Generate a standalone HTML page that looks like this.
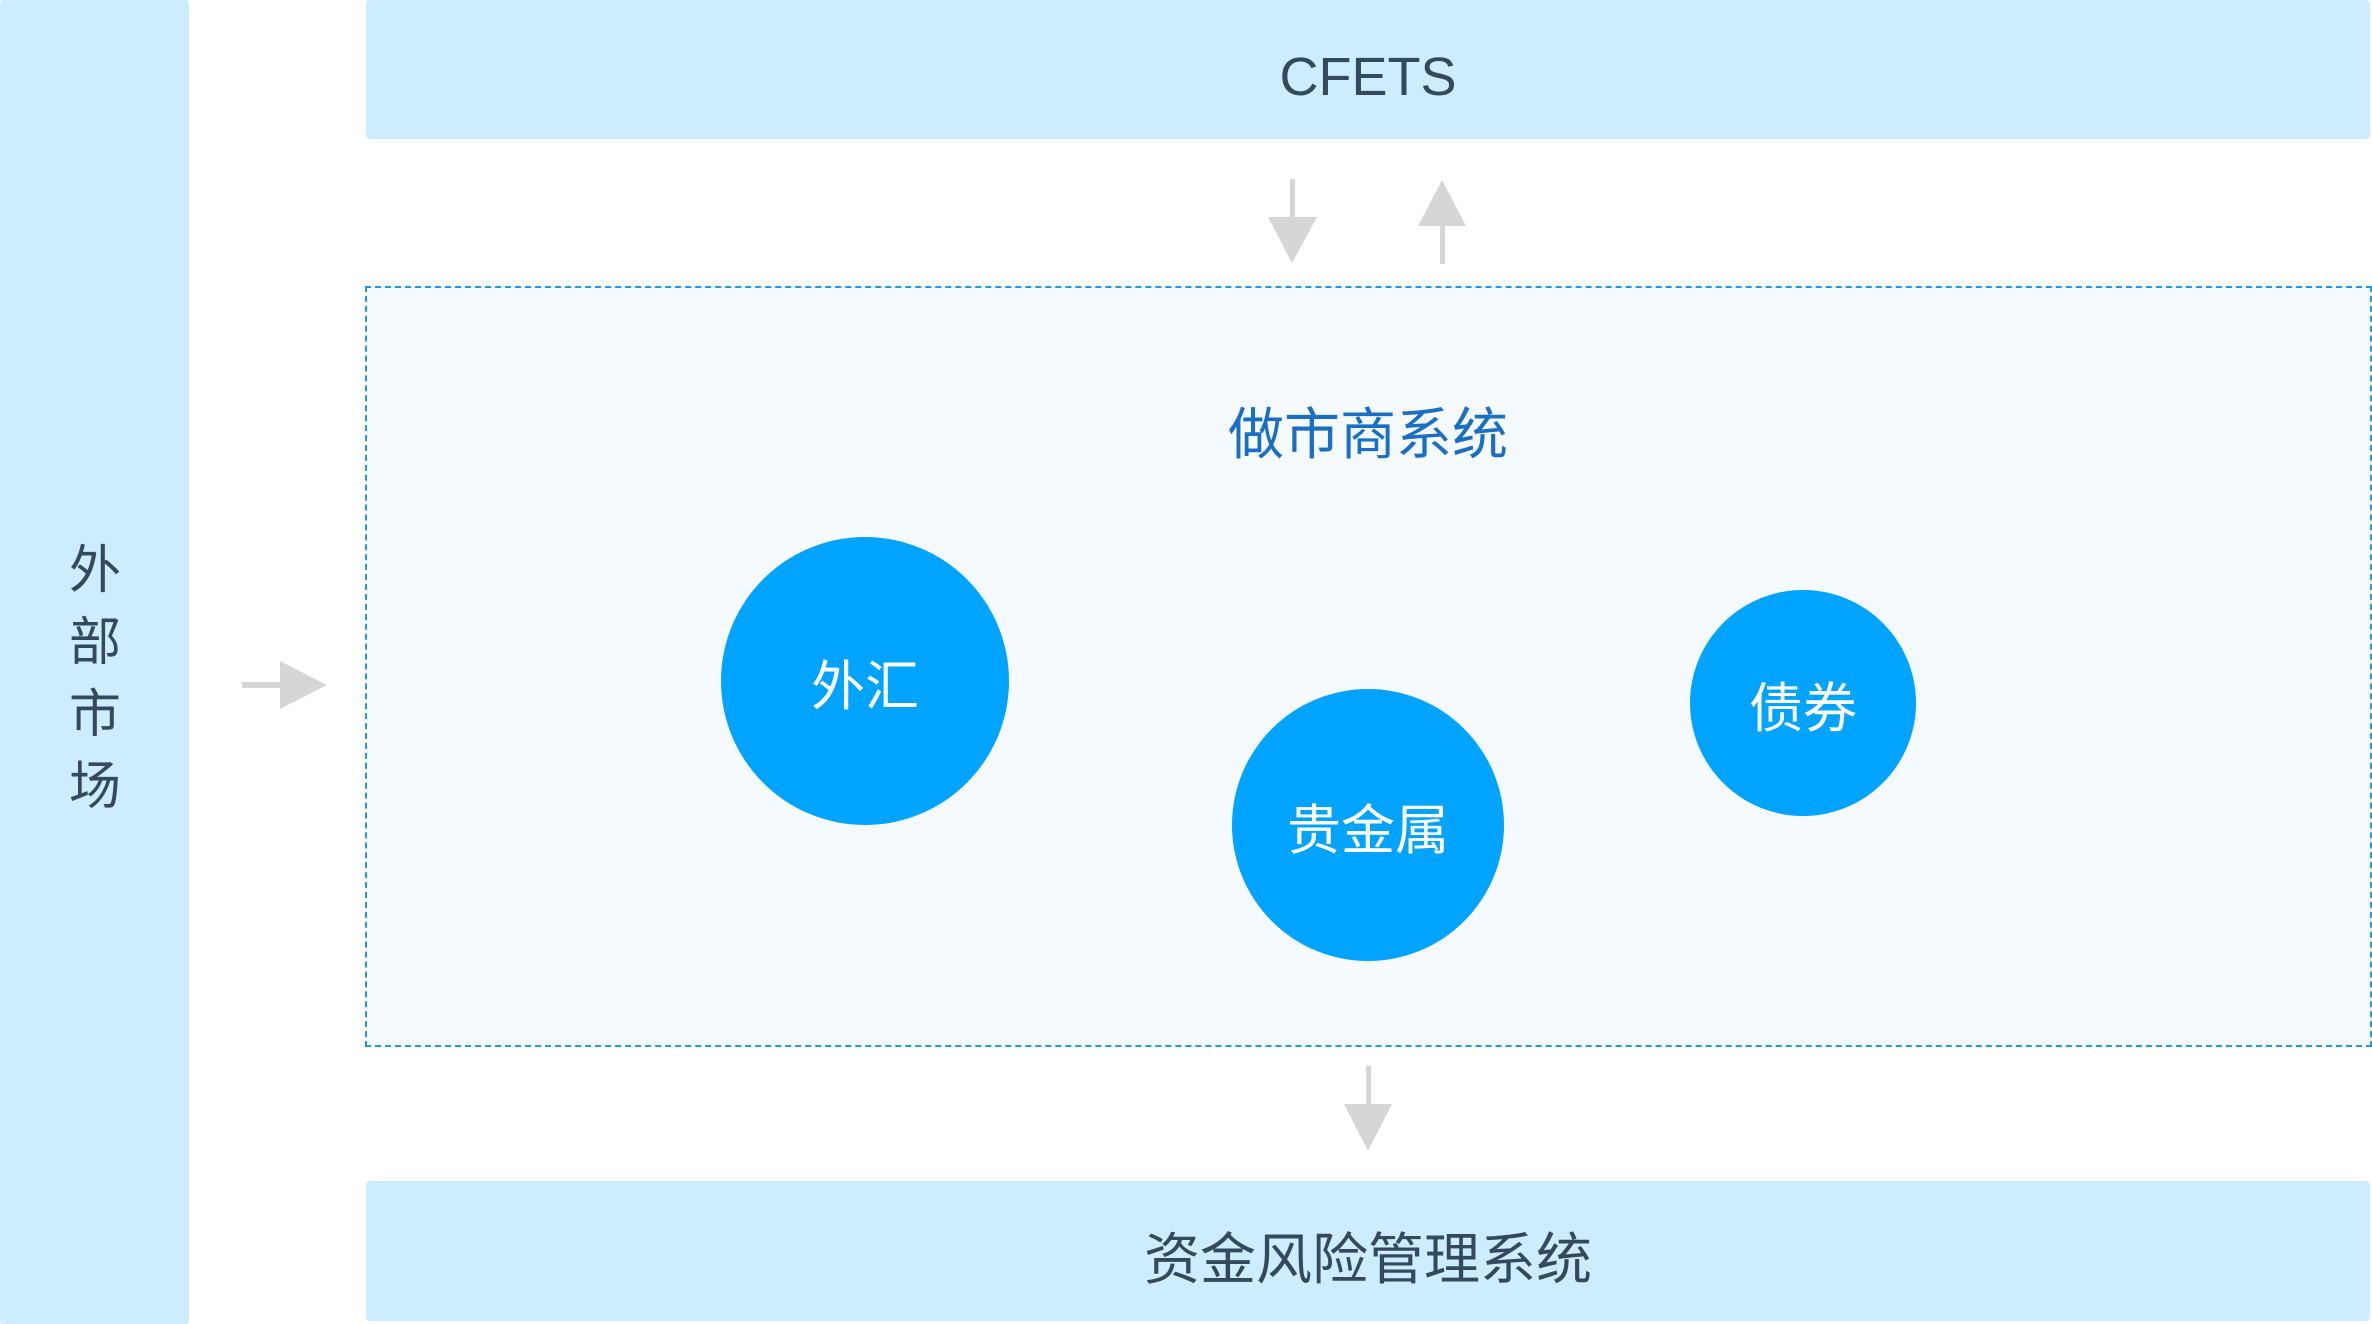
<!DOCTYPE html>
<html><head><meta charset="utf-8"><style>
html,body{margin:0;padding:0;background:#fff;}
body{width:2372px;height:1324px;position:relative;overflow:hidden;font-family:"Liberation Sans","Noto Sans CJK SC",sans-serif;}
.bar{position:absolute;background:#cdecfe;border-radius:4px;color:#34495e;display:flex;align-items:center;justify-content:center;}
.dash{position:absolute;left:365px;top:286px;width:2003px;height:757px;border:2px dashed #1e9be6;background:#f4faff;}
.c{position:absolute;border-radius:50%;background:#00a4ff;color:#fff;display:flex;align-items:center;justify-content:center;font-size:54px;}
</style></head><body>
<div class="bar" style="left:0;top:0;width:189px;height:1324px;"></div>
<div style="position:absolute;left:65px;top:535px;width:60px;font-size:52px;color:#34495e;line-height:72px;text-align:center;">外<br>部<br>市<br>场</div>
<div class="bar" style="left:366px;top:0;width:2004px;height:139px;font-size:54px;padding-top:14px;box-sizing:border-box;">CFETS</div>
<div class="dash"></div>
<div style="position:absolute;left:1068px;top:390px;width:600px;text-align:center;font-size:56px;color:#1a6fc4;">做市商系统</div>
<div class="c" style="left:721px;top:537px;width:288px;height:288px;">外汇</div>
<div class="c" style="left:1232px;top:689px;width:272px;height:272px;">贵金属</div>
<div class="c" style="left:1690px;top:590px;width:226px;height:226px;">债券</div>
<div class="bar" style="left:366px;top:1181px;width:2004px;height:140px;font-size:56px;padding-top:8px;box-sizing:border-box;">资金风险管理系统</div>
<svg width="2372" height="1324" style="position:absolute;left:0;top:0" fill="#d6d6d6" stroke="none">
<rect x="1290" y="179" width="5" height="40"/><polygon points="1268,217 1317,217 1292,263"/>
<rect x="1440" y="224" width="5" height="40"/><polygon points="1418,226 1466,226 1442,180"/>
<rect x="1366" y="1066" width="5" height="40"/><polygon points="1344,1104 1392,1104 1368,1151"/>
<rect x="242" y="682" width="42" height="6"/><polygon points="280,661 280,709 327,685"/>
</svg>
</body></html>
